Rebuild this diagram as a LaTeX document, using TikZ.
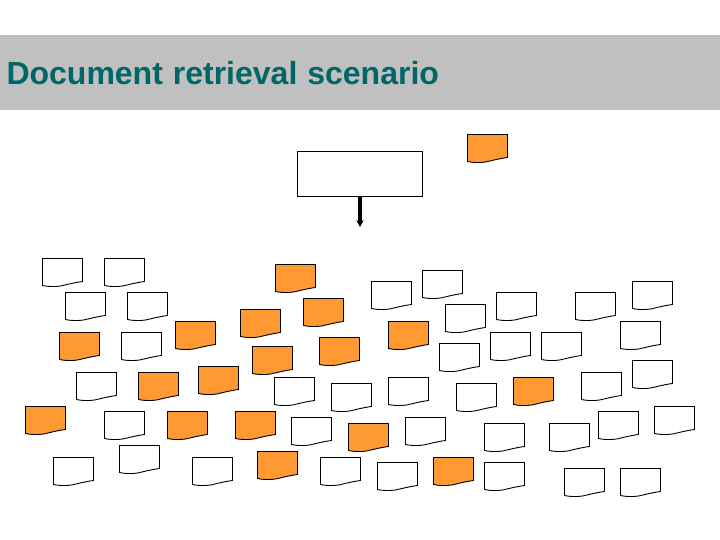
\documentclass[tikz,border=0pt]{standalone}
\usepackage{fontspec}
\setmainfont[WordSpace=1.12]{Liberation Sans}
\usetikzlibrary{arrows.meta}
\definecolor{band}{HTML}{C0C0C0}
\definecolor{teal}{HTML}{006666}
\definecolor{docorange}{HTML}{FF9933}
\tikzset{
  x=1pt,y=-1pt,
  docpage/.style={draw=black,line width=0.9pt,line join=miter},
  plainpage/.style={docpage,fill=white},
  markedpage/.style={docpage,fill=docorange},
  querybox/.style={draw=black,line width=1pt,fill=white,minimum width=125pt,minimum height=45pt,inner sep=0pt,outer sep=0pt},
  titletext/.style={anchor=base west,inner sep=0pt,text=teal,font=\bfseries\fontsize{32}{36}\selectfont},
  pagearrow/.style={draw=black,line width=3.6pt,-{Stealth[length=6.5pt,width=7pt,inset=1pt]}}
}
\newcommand{\pageoutline}{(0,0) -- (40,0) -- (40,23) .. controls (32,24) and (24,26.2) .. (18,27.5) .. controls (12,28.4) and (5,28.2) .. (0,27) -- cycle}
\begin{document}
\begin{tikzpicture}
\useasboundingbox (0,0) rectangle (720,540);
\fill[band] (0,35) rectangle (720,110);
\node[titletext] (title) at (6.3,85) {Document retrieval scenario};
\node[querybox] (query) at (360,174) {};
\coordinate (queryend) at (360,227);
\draw[pagearrow] (query.south) -- (queryend);
\foreach \px/\py in {42/258,104/258,65/292,127/292,121/332,76/372,104/411,53/457,119/445,192/457,
  371/281,422/270,445/304,439/343,274/377,331/383,388/377,456/383,291/417,405/417,320/457,377/462,
  496/292,575/292,632/281,620/321,490/332,541/332,581/372,632/360,598/411,654/406,484/423,549/423,484/462,564/468,620/468}
  \draw[plainpage,shift={(\px+0.5,\py+0.5)}] \pageoutline;
\foreach \px/\py in {467/134,59/332,175/321,240/309,138/372,198/366,25/406,167/411,235/411,257/451,
  275/264,303/298,388/321,252/346,319/337,348/423,433/457,513/377}
  \draw[markedpage,shift={(\px+0.5,\py+0.5)}] \pageoutline;
\end{tikzpicture}
\end{document}
